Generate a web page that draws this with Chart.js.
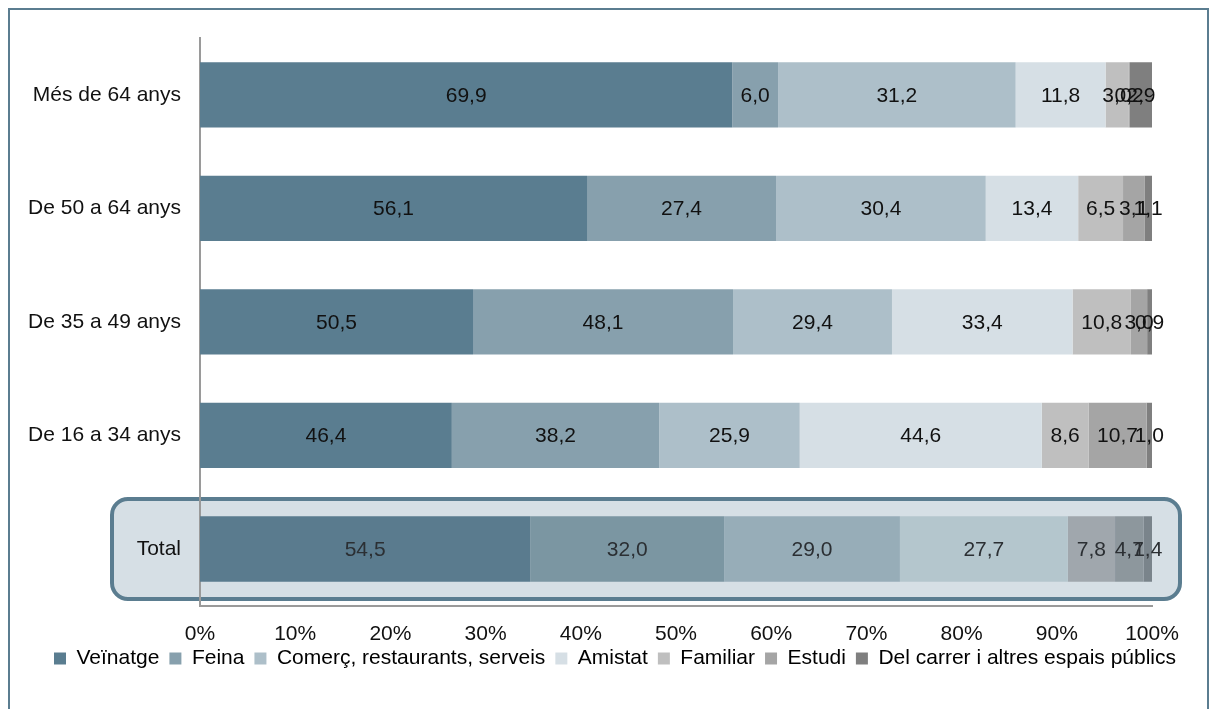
<!DOCTYPE html>
<html>
<head>
<meta charset="utf-8">
<script src="https://cdn.jsdelivr.net/npm/chart.js@4/dist/chart.umd.min.js"></script>
<style>
  body { margin: 0; background: #fff; }
  #frame { position: absolute; left: 8px; top: 8px; width: 1197px; height: 720px;
           border: 2px solid #5b7d90; border-bottom: none; }
  #chart { position: absolute; left: 0; top: 0; }
</style>
</head>
<body>
<div id="frame"></div>
<canvas id="chart" width="1209" height="709"></canvas>
<script>
// Age groups, top to bottom
const groups = ['Més de 64 anys', 'De 50 a 64 anys', 'De 35 a 49 anys', 'De 16 a 34 anys', 'Total'];

// Raw values per series (one per group)
const veinatge  = [69.9, 56.1, 50.5, 46.4, 54.5];
const feina     = [6.0, 27.4, 48.1, 38.2, 32.0];
const comerc    = [31.2, 30.4, 29.4, 25.9, 29.0];
const amistat   = [11.8, 13.4, 33.4, 44.6, 27.7];
const familiar  = [3.0, 6.5, 10.8, 8.6, 7.8];
const estudi    = [0.2, 3.1, 3.0, 10.7, 4.7];
const carrer    = [2.9, 1.1, 0.9, 1.0, 1.4];

const seriesNames = ['Veïnatge', 'Feina', 'Comerç, restaurants, serveis', 'Amistat', 'Familiar', 'Estudi', 'Del carrer i altres espais públics'];
const seriesValues = [veinatge, feina, comerc, amistat, familiar, estudi, carrer];
const seriesColors = ['#5a7d90', '#87a0ad', '#adbfc9', '#d6dfe5', '#bfbfbf', '#a5a5a5', '#7f7f7f'];
// colours of the Total row (under the highlight box)
const totalColors  = ['#5a7b8e', '#7b96a2', '#97adb8', '#b4c6cd', '#a0a7ad', '#8d979d', '#7a848b'];

const xTicks = [0, 10, 20, 30, 40, 50, 60, 70, 80, 90, 100];

const FONT = 'Liberation Sans, Arial, sans-serif';
const FS = 21;

// Row totals so each bar fills 100%
const rowTotals = groups.map((_, i) => seriesValues.reduce((s, arr) => s + arr[i], 0));

const datasets = seriesNames.map((name, k) => ({
    label: name,
    data: seriesValues[k].map((v, i) => v / rowTotals[i] * 100),
    raw: seriesValues[k],
    backgroundColor: groups.map((g, i) => i === groups.length - 1 ? totalColors[k] : seriesColors[k]),
    borderWidth: 0
}));

// Rounded highlight box behind the Total row
const highlightBox = {
    id: 'highlightBox',
    beforeDraw(chart) {
        const { ctx, chartArea, scales } = chart;
        const yc = scales.y.getPixelForValue(groups.length - 1);
        const x0 = chartArea.left - 88, x1 = chartArea.right + 28;
        const y0 = yc - 50, y1 = yc + 50;
        ctx.save();
        ctx.beginPath();
        ctx.roundRect(x0, y0, x1 - x0, y1 - y0, 16);
        ctx.fillStyle = '#d6dfe5';
        ctx.fill();
        ctx.lineWidth = 4;
        ctx.strokeStyle = '#5b7d90';
        ctx.stroke();
        ctx.restore();
    }
};

// move the legend up under the tick labels and centre it on the page
const legendShift = {
    id: 'legendShift',
    afterLayout(chart) {
        const lg = chart.legend;
        lg.top -= 25;
        lg.bottom -= 25;
        lg.left += 39;
        lg.right += 39;
    }
};

// Value labels centred in each segment
const segmentLabels = {
    id: 'segmentLabels',
    afterDatasetsDraw(chart) {
        const { ctx } = chart;
        ctx.save();
        ctx.font = FS + 'px ' + FONT;
        ctx.textAlign = 'center';
        ctx.textBaseline = 'middle';
        chart.data.datasets.forEach((ds, k) => {
            const meta = chart.getDatasetMeta(k);
            meta.data.forEach((bar, i) => {
                const txt = ds.raw[i].toFixed(1).replace('.', ',');
                ctx.fillStyle = i === groups.length - 1 ? '#2b2f33' : '#111';
                ctx.fillText(txt, (bar.x + bar.base) / 2, bar.y + 1);
            });
        });
        ctx.restore();
    }
};

new Chart(document.getElementById('chart'), {
    type: 'bar',
    data: { labels: groups, datasets: datasets },
    options: {
        indexAxis: 'y',
        responsive: false,
        animation: false,
        layout: { padding: { top: 38, right: 57, left: 0, bottom: 5 } },
        datasets: { bar: { categoryPercentage: 1, barPercentage: 0.575 } },
        scales: {
            x: {
                stacked: true,
                min: 0,
                max: 100,
                afterBuildTicks: scale => { scale.ticks = xTicks.map(v => ({ value: v })); },
                grid: { display: false, drawTicks: false },
                border: { display: true, color: '#9a9a9a', width: 2 },
                ticks: {
                    padding: 16,
                    color: '#111',
                    font: { family: FONT, size: FS },
                    callback: v => v + '%'
                }
            },
            y: {
                stacked: true,
                afterFit: scale => { scale.width = 200; },
                grid: { display: false, drawTicks: false },
                border: { display: true, color: '#9a9a9a', width: 2 },
                ticks: {
                    padding: 19,
                    color: '#111',
                    font: { family: FONT, size: FS }
                }
            }
        },
        plugins: {
            tooltip: { enabled: false },
            legend: {
                position: 'bottom',
                labels: {
                    color: '#111',
                    font: { family: FONT, size: 21 },
                    boxWidth: 12,
                    boxHeight: 12,
                    padding: 10,
                    generateLabels: chart => chart.data.datasets.map((ds, k) => ({
                        text: ds.label,
                        fillStyle: seriesColors[k],
                        strokeStyle: seriesColors[k],
                        lineWidth: 0,
                        datasetIndex: k
                    }))
                }
            }
        }
    },
    plugins: [highlightBox, legendShift, segmentLabels]
});
</script>
</body>
</html>
